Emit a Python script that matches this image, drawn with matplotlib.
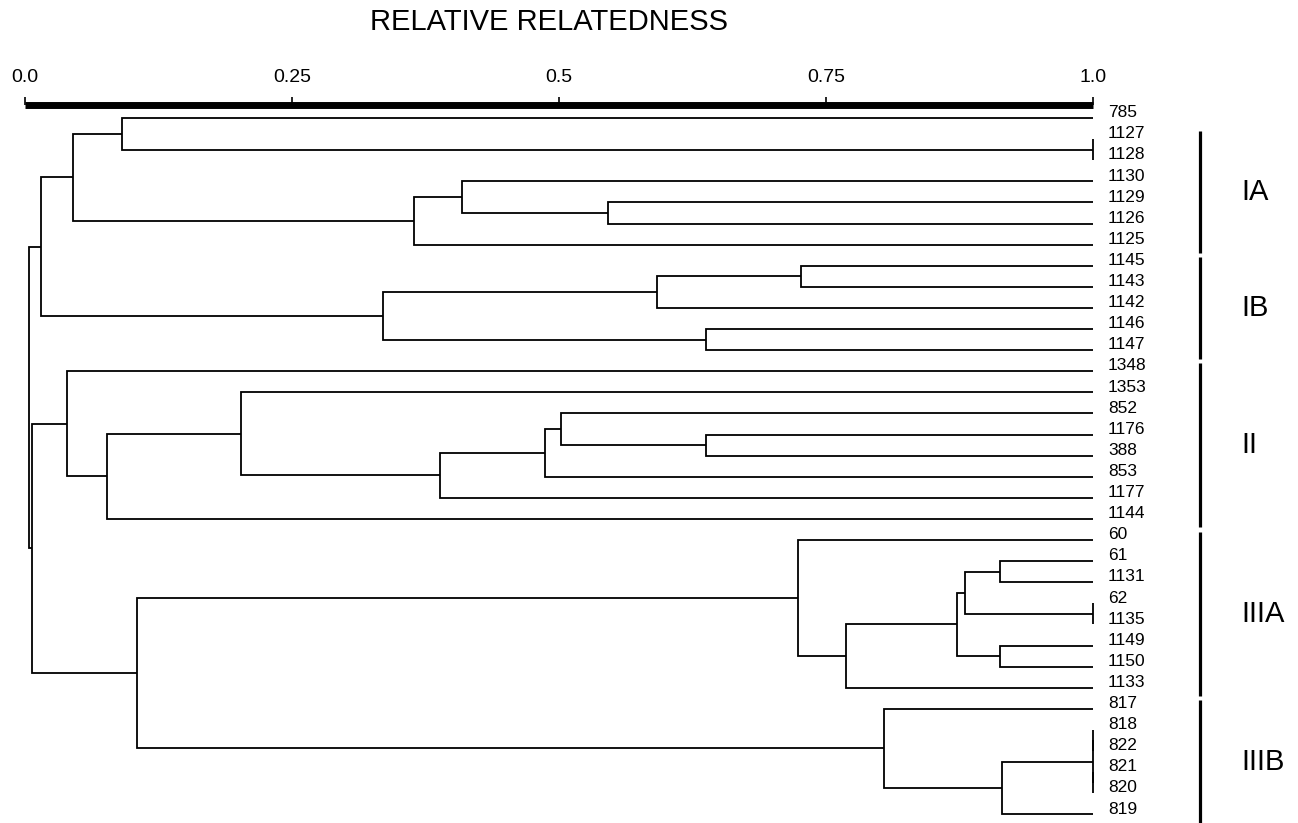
import matplotlib.pyplot as plt

plt.rcParams["font.family"] = ["Liberation Sans", "DejaVu Sans"]

# leaf order top to bottom
leaves = ["785", "1127", "1128", "1130", "1129", "1126", "1125",
          "1145", "1143", "1142", "1146", "1147",
          "1348", "1353", "852", "1176", "388", "853", "1177", "1144",
          "60", "61", "1131", "62", "1135", "1149", "1150", "1133",
          "817", "818", "822", "821", "820", "819"]

# merges: strings are leaves, ints point to an earlier merge
merge_a = ["1127", "785", "1129", "1130", 3, 1, "1145", 6, "1146", 7, 5,
           "1176", "852", 12, 13, "1353", 15, "1348",
           "61", "62", 18, "1149", 20, 22, "60",
           "818", "821", 25, 27, "817", 24, 17, 10]
merge_b = ["1128", 0, "1126", 2, "1125", 4, "1143", "1142", "1147", 8, 9,
           "388", 11, "853", "1177", 14, "1144", 16,
           "1131", "1135", 19, "1150", 21, "1133", 23,
           "822", "820", 26, "819", 28, 29, 30, 31]
merge_level = [1.0, 0.091, 0.546, 0.409, 0.364, 0.045, 0.727, 0.592, 0.638, 0.335, 0.015,
               0.638, 0.502, 0.487, 0.389, 0.202, 0.077, 0.039,
               0.913, 1.0, 0.880, 0.913, 0.873, 0.769, 0.724,
               1.0, 1.0, 1.0, 0.915, 0.804, 0.105, 0.0065, 0.0035]

groups = ["IA", "IB", "II", "IIIA", "IIIB"]
group_first = ["1127", "1145", "1348", "60", "817"]
group_last = ["1125", "1147", "1144", "1133", "819"]

tick_values = [0.0, 0.25, 0.5, 0.75, 1.0]
tick_labels = ["0.0", "0.25", "0.5", "0.75", "1.0"]

W, H = 1298, 823
X0, X1 = 25, 1093          # pixel position of 0.0 and 1.0
Y0, DY = 118, 21.1         # first leaf row and row spacing
BAR_Y = 105

fig = plt.figure(figsize=(W / 100, H / 100), dpi=100)
ax = fig.add_axes([0, 0, 1, 1 - BAR_Y / H])
scale = X1 - X0
ax.set_xlim(-X0 / scale, (W - X0) / scale)
ax.set_ylim((H - Y0) / DY, (BAR_Y - Y0) / DY)

# scale bar on top
for s in ["left", "right", "bottom"]:
    ax.spines[s].set_visible(False)
ax.spines["top"].set_bounds(0, 1)
ax.spines["top"].set_linewidth(5)
ax.spines["top"].set_capstyle("butt")
ax.xaxis.tick_top()
ax.set_xticks(tick_values, tick_labels)
ax.tick_params(axis="x", direction="out", length=5.5, width=1.2, pad=8, labelsize=14)
ax.set_yticks([])

row = {name: i for i, name in enumerate(leaves)}
pos = []


def node_pos(ref):
    if isinstance(ref, str):
        return 1.0, row[ref]
    return pos[ref]


lw = 1.3
for a, b, lev in zip(merge_a, merge_b, merge_level):
    xa, ya = node_pos(a)
    xb, yb = node_pos(b)
    ax.plot([xa, lev, lev, xb], [ya, ya, yb, yb], color="black", lw=lw,
            solid_joinstyle="miter", solid_capstyle="butt")
    pos.append((lev, (ya + yb) / 2))

# leaf labels
for i, name in enumerate(leaves):
    ax.text(1.014, i - 0.25, name, ha="left", va="center", fontsize=12.5)

# cluster brackets
gx = (1200 - X0) / scale
lx = (1241 - X0) / scale
for g, first, last in zip(groups, group_first, group_last):
    top, bot = row[first] - 0.4, row[last] + 0.4
    ax.plot([gx, gx], [top, bot], color="black", lw=2.3, solid_capstyle="butt",
            clip_on=False)
    ax.text(lx, (top + bot) / 2, g, ha="left", va="center", fontsize=21)

fig.text(549 / W, 1 - 22 / H, "RELATIVE RELATEDNESS", ha="center", va="center",
         fontsize=21)

fig.savefig("out.png", dpi=100)
